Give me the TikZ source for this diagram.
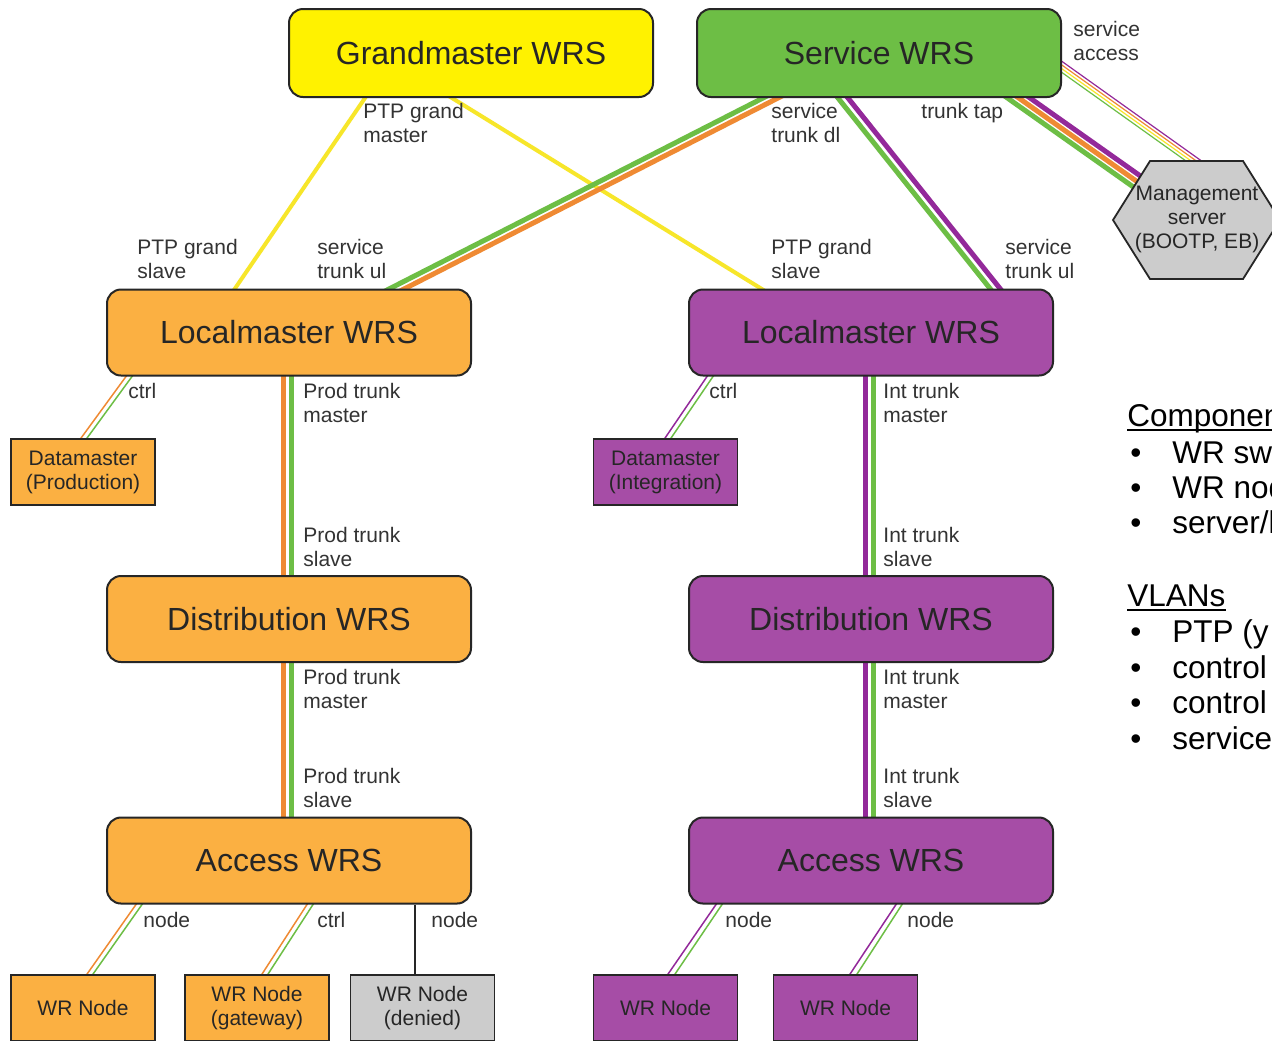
\documentclass[tikz,border=0pt]{standalone}
\usepackage{fontspec}
\setmainfont{Liberation Sans}
\usetikzlibrary{calc,backgrounds}

\definecolor{gmyellow}{HTML}{FFF200}
\definecolor{ptpyellow}{HTML}{F7E62A}
\definecolor{svcgreen}{HTML}{6DBE45}
\definecolor{prodorange}{HTML}{FBB042}
\definecolor{trunkorange}{HTML}{EF8A33}
\definecolor{intpurple}{HTML}{A64DA6}
\definecolor{trunkpurple}{HTML}{93299A}
\definecolor{srvgray}{HTML}{CCCCCC}

\tikzset{
  wrs/.style={draw=black!85, line width=1pt, rounded corners=7pt, minimum width=182pt,
    minimum height=43pt, inner sep=0pt, text=black!85, font=\fontsize{16}{19}\selectfont},
  dev/.style={draw=black!85, line width=0.9pt, minimum width=72pt, minimum height=33pt,
    inner sep=0pt, align=center, text=black!85, font=\fontsize{10.5}{12}\selectfont},
  lbl/.style={anchor=north west, inner sep=0pt, align=left, text=black!80,
    font=\fontsize{10.5}{12}\selectfont},
  leg/.style={anchor=base west, inner sep=0pt, text=black, font=\fontsize{15.75}{19}\selectfont},
  link/.style={shorten <=-3pt, shorten >=-3pt},
  ptp/.style={link, ptpyellow, line width=2pt},
  trunk/.style={link, line width=2.5pt},
  ctrl/.style={link, line width=0.75pt},
  tap/.style={line width=0.6pt},
}

\begin{document}
\begin{tikzpicture}[x=0.5pt, y=-0.5pt]
  \useasboundingbox (0,0) rectangle (1272,1040);
  \clip (0,0) rectangle (1272,1040);

  % switches
  \node[wrs, fill=gmyellow, minimum height=44pt] (gm) at (471,53) {Grandmaster WRS};
  \node[wrs, fill=svcgreen, minimum height=44pt] (svc) at (879,53) {Service WRS};
  \node[wrs, fill=prodorange] (lml) at (289,332.5) {Localmaster WRS};
  \node[wrs, fill=intpurple] (lmr) at (871,332.5) {Localmaster WRS};
  \node[wrs, fill=prodorange] (dsl) at (289,619) {Distribution WRS};
  \node[wrs, fill=intpurple] (dsr) at (871,619) {Distribution WRS};
  \node[wrs, fill=prodorange] (acl) at (289,860.5) {Access WRS};
  \node[wrs, fill=intpurple] (acr) at (871,860.5) {Access WRS};

  % nodes
  \node[dev, fill=prodorange] (dml) at (83,472) {Datamaster\\(Production)};
  \node[dev, fill=intpurple] (dmr) at (665.5,472) {Datamaster\\(Integration)};
  \node[dev, fill=prodorange] (wn1) at (83,1008) {WR Node};
  \node[dev, fill=prodorange] (wn2) at (257,1008) {WR Node\\(gateway)};
  \node[dev, fill=srvgray] (wn3) at (422.5,1008) {WR Node\\(denied)};
  \node[dev, fill=intpurple] (wn4) at (665.5,1008) {WR Node};
  \node[dev, fill=intpurple] (wn5) at (845.5,1008) {WR Node};
  \coordinate (dn) at ($(wn3.north)+(-7.5,0)$);

  % management server
  \node[inner sep=0pt, align=center, text=black!85, font=\fontsize{10.5}{12}\selectfont]
    (mgmt) at (1197,219) {Management\\server\\(BOOTP, EB)};

  \begin{pgfonlayer}{background}
    \fill[white] (0,0) rectangle (1272,1040);
    % PTP
    \draw[ptp] ($(gm.south)+(-106,0)$) -- ($(lml.north)+(-54,0)$);
    \draw[ptp] ($(gm.south)+(-19,0)$) -- ($(lmr.north)+(-110,0)$);
    % service trunks
    \draw[trunk, svcgreen] ($(svc.south)+(-116,0)$) -- ($(lml.north)+(101,0)$);
    \draw[trunk, trunkorange] ($(svc.south)+(-101,0)$) -- ($(lml.north)+(116,0)$);
    \draw[trunk, svcgreen] ($(svc.south)+(-41,0)$) -- ($(lmr.north)+(119,0)$);
    \draw[trunk, trunkpurple] ($(svc.south)+(-31,0)$) -- ($(lmr.north)+(129,0)$);
    % trunk tap
    \draw[trunk, svcgreen] ($(svc.south)+(123.2,-3.7)$) -- ($(mgmt)+(-32.8,-10.2)$);
    \draw[trunk, trunkorange] ($(svc.south)+(127,-9)$) -- ($(mgmt)+(-29,-15.5)$);
    \draw[trunk, trunkpurple] ($(svc.south)+(130.8,-14.3)$) -- ($(mgmt)+(-25.2,-20.8)$);
    % service access
    \draw[tap, trunkpurple] ($(svc.center)+(178.6,5.3)$) -- ($(mgmt)+(10.6,-53.7)$);
    \draw[tap, trunkorange] ($(svc.center)+(176.9,7.8)$) -- ($(mgmt)+(8.9,-51.2)$);
    \draw[tap, ptpyellow] ($(svc.center)+(175.1,10.2)$) -- ($(mgmt)+(7.1,-48.8)$);
    \draw[tap, svcgreen] ($(svc.center)+(173.4,12.7)$) -- ($(mgmt)+(5.4,-46.3)$);
    % prod / int trunks
    \draw[trunk, trunkorange] ($(lml.south)+(-6,0)$) -- ($(dsl.north)+(-6,0)$);
    \draw[trunk, svcgreen] ($(lml.south)+(2,0)$) -- ($(dsl.north)+(2,0)$);
    \draw[trunk, trunkorange] ($(dsl.south)+(-6,0)$) -- ($(acl.north)+(-6,0)$);
    \draw[trunk, svcgreen] ($(dsl.south)+(2,0)$) -- ($(acl.north)+(2,0)$);
    \draw[trunk, trunkpurple] ($(lmr.south)+(-6,0)$) -- ($(dsr.north)+(-6,0)$);
    \draw[trunk, svcgreen] ($(lmr.south)+(2,0)$) -- ($(dsr.north)+(2,0)$);
    \draw[trunk, trunkpurple] ($(dsr.south)+(-6,0)$) -- ($(acr.north)+(-6,0)$);
    \draw[trunk, svcgreen] ($(dsr.south)+(2,0)$) -- ($(acr.north)+(2,0)$);
    % ctrl and node links
    \draw[ctrl, trunkorange] ($(lml.south west)+(20,0)$) -- ($(dml.north)+(-2,0)$);
    \draw[ctrl, svcgreen] ($(lml.south west)+(26,0)$) -- ($(dml.north)+(4,0)$);
    \draw[ctrl, trunkpurple] ($(lmr.south west)+(19,0)$) -- ($(dmr.north)+(-0.5,0)$);
    \draw[ctrl, svcgreen] ($(lmr.south west)+(25,0)$) -- ($(dmr.north)+(5.5,0)$);
    \draw[ctrl, trunkorange] ($(acl.south west)+(30,0)$) -- ($(wn1.north)+(4,0)$);
    \draw[ctrl, svcgreen] ($(acl.south west)+(36,0)$) -- ($(wn1.north)+(10,0)$);
    \draw[ctrl, trunkorange] ($(acl.south west)+(201,0)$) -- ($(wn2.north)+(5,0)$);
    \draw[ctrl, svcgreen] ($(acl.south west)+(207,0)$) -- ($(wn2.north)+(11,0)$);
    \draw[line width=0.8pt, black!85] (dn |- acl.south) -- (dn);
    \draw[ctrl, trunkpurple] ($(acr.south west)+(28,0)$) -- ($(wn4.north)+(2.5,0)$);
    \draw[ctrl, svcgreen] ($(acr.south west)+(34,0)$) -- ($(wn4.north)+(9.5,0)$);
    \draw[ctrl, trunkpurple] ($(acr.south west)+(208,0)$) -- ($(wn5.north)+(4.5,0)$);
    \draw[ctrl, svcgreen] ($(acr.south west)+(214,0)$) -- ($(wn5.north)+(11.5,0)$);
    % hexagon of the management server
    \draw[draw=black!85, line width=0.9pt, fill=srvgray] ($(mgmt)+(-84,1)$) -- ($(mgmt)+(-47,-58)$)
      -- ($(mgmt)+(46,-58)$) -- ($(mgmt)+(83,1)$) -- ($(mgmt)+(46,60)$) -- ($(mgmt)+(-47,60)$) -- cycle;
  \end{pgfonlayer}

  % port labels
  \node[lbl] (tgm) at (363,103) {PTP grand\\master};
  \node[lbl] (tsdl) at (771,103) {service\\trunk dl};
  \node[lbl] (ttap) at (921,103) {trunk tap};
  \node[lbl] (tacc) at (1073,21) {service\\access};
  \node[lbl] (tgsl) at (137,239) {PTP grand\\slave};
  \node[lbl] (tsul) at (317,239) {service\\trunk ul};
  \node[lbl] (tgsr) at (771,239) {PTP grand\\slave};
  \node[lbl] (tsur) at (1005,239) {service\\trunk ul};
  \node[lbl] (tcl) at (128,383) {ctrl};
  \node[lbl] (tcr) at (709,383) {ctrl};
  \node[lbl] (tpm1) at (303,383) {Prod trunk\\master};
  \node[lbl] (tim1) at (883,383) {Int trunk\\master};
  \node[lbl] (tps1) at (303,527) {Prod trunk\\slave};
  \node[lbl] (tis1) at (883,527) {Int trunk\\slave};
  \node[lbl] (tpm2) at (303,669) {Prod trunk\\master};
  \node[lbl] (tim2) at (883,669) {Int trunk\\master};
  \node[lbl] (tps2) at (303,768) {Prod trunk\\slave};
  \node[lbl] (tis2) at (883,768) {Int trunk\\slave};
  \node[lbl] (tn1) at (143,912) {node};
  \node[lbl] (tc3) at (317,912) {ctrl};
  \node[lbl] (tn2) at (431,912) {node};
  \node[lbl] (tn3) at (725,912) {node};
  \node[lbl] (tn4) at (907,912) {node};

  % legend
  \node[leg] (lgc) at (1127,426) {Componen};
  \draw[line width=0.8pt] ($(lgc.base west)+(0,4)$) -- ($(lgc.base east)+(0,4)$);
  \node[leg] (lg1) at (1127,463) {\makebox[22.5pt][l]{\hspace{1.5pt}\textbullet}WR sw};
  \node[leg] (lg2) at (1127,498) {\makebox[22.5pt][l]{\hspace{1.5pt}\textbullet}WR nod};
  \node[leg] (lg3) at (1127,533) {\makebox[22.5pt][l]{\hspace{1.5pt}\textbullet}server/l};
  \node[leg] (lgv) at (1127,606) {VLANs};
  \draw[line width=0.8pt] ($(lgv.base west)+(0,4)$) -- ($(lgv.base east)+(0,4)$);
  \node[leg] (lg4) at (1127,642) {\makebox[22.5pt][l]{\hspace{1.5pt}\textbullet}PTP (y};
  \node[leg] (lg5) at (1127,678) {\makebox[22.5pt][l]{\hspace{1.5pt}\textbullet}control};
  \node[leg] (lg6) at (1127,713) {\makebox[22.5pt][l]{\hspace{1.5pt}\textbullet}control};
  \node[leg] (lg7) at (1127,749) {\makebox[22.5pt][l]{\hspace{1.5pt}\textbullet}service};
\end{tikzpicture}
\end{document}
